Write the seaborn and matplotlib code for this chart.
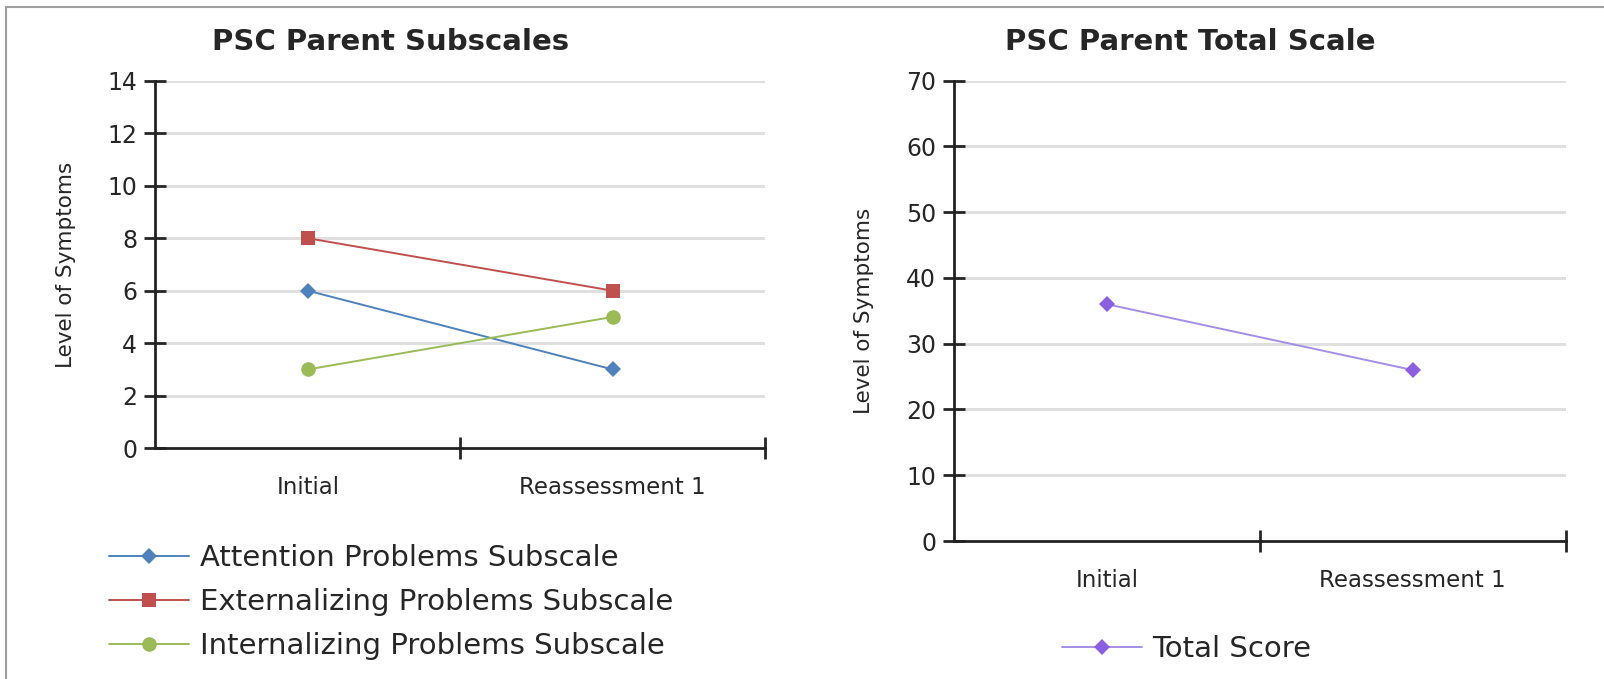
import matplotlib
matplotlib.use("Agg")
import matplotlib.pyplot as plt
import matplotlib.patches as mpatches
import seaborn as sns
import pandas as pd

sns.set_theme(style="white")
plt.rcParams["font.family"] = ["DejaVu Sans"]

assessments = ["Initial", "Reassessment 1"]
attention = [6, 3]
externalizing = [8, 6]
internalizing = [3, 5]
total_score = [36, 26]

sub_names = ["Attention Problems Subscale", "Externalizing Problems Subscale",
             "Internalizing Problems Subscale"]
sub_colors = ["#4f81bd", "#c0504d", "#9bbb59"]
sub_markers = ["D", "s", "o"]
sub_sizes = [8, 10.5, 10.5]

sub_df = pd.DataFrame({
    "assessment": assessments * 3,
    "x": [0, 1] * 3,
    "value": attention + externalizing + internalizing,
    "scale": [n for n in sub_names for _ in assessments],
})
total_df = pd.DataFrame({"x": [0, 1], "value": total_score, "scale": "Total Score"})

fig = plt.figure(figsize=(16.04, 6.79), dpi=100)
ax1 = fig.add_axes([0.0969, 0.340, 0.380, 0.541])
ax2 = fig.add_axes([0.595, 0.2032, 0.381, 0.678])

# frame around the whole picture
fig.patches.append(mpatches.Rectangle((6 / 1604, -0.1), 1.1, 1 - 7 / 679 + 0.1,
                                      transform=fig.transFigure, fill=False,
                                      edgecolor="#a0a0a0", linewidth=1.5))

for name, color, marker, ms in zip(sub_names, sub_colors, sub_markers, sub_sizes):
    d = sub_df[sub_df["scale"] == name]
    sns.lineplot(data=d, x="x", y="value", ax=ax1, color=color, marker=marker,
                 markersize=ms, markeredgewidth=0, linewidth=1.4, label=name)

sns.lineplot(data=total_df, x="x", y="value", ax=ax2, color="#a58ee6", marker="D",
             markersize=8, markeredgewidth=0, markerfacecolor="#8a60e0",
             linewidth=1.4, label="Total Score")


def style_axis(ax, ymax, step, title):
    ax.set_xlim(-0.5, 1.5)
    ax.set_ylim(0, ymax)
    ax.set_yticks(range(0, ymax + 1, step))
    for v in range(step, ymax + 1, step):
        ax.axhline(v, color="#e0e0e0", linewidth=2.2, zorder=0)
    ax.set_xticks([0.5, 1.5])
    ax.set_xticklabels([])
    ax.set_xticks([0, 1], minor=True)
    ax.set_xticklabels(assessments, minor=True, fontsize=16.5)
    ax.tick_params(axis="x", which="minor", length=0, pad=20)
    ax.tick_params(axis="x", which="major", direction="inout", length=16, width=2)
    ax.tick_params(axis="y", direction="inout", length=16, width=2, labelsize=17, pad=5)
    ax.yaxis.set_tick_params(left=True)
    ax.xaxis.set_tick_params(bottom=True)
    for s in ["top", "right"]:
        ax.spines[s].set_visible(False)
    for s in ["left", "bottom"]:
        ax.spines[s].set_color("#222222")
        ax.spines[s].set_linewidth(2)
    ax.set_xlabel("")
    ax.set_ylabel("Level of Symptoms", fontsize=15.5, labelpad=23)
    ax.set_title(title, fontsize=21, fontweight="bold", x=0.386, pad=22)


style_axis(ax1, 14, 2, "PSC Parent Subscales")
style_axis(ax2, 70, 10, "PSC Parent Total Scale")

leg_kw = dict(frameon=False, fontsize=21, handlelength=2.75, handletextpad=0.36,
              labelspacing=0.55, borderpad=0, borderaxespad=0,
              loc="upper left", bbox_transform=fig.transFigure)
ax1.legend(bbox_to_anchor=(0.068, 0.199), **leg_kw)
ax2.legend(bbox_to_anchor=(0.662, 0.065), **leg_kw)

fig.savefig("out.png", dpi=100)
